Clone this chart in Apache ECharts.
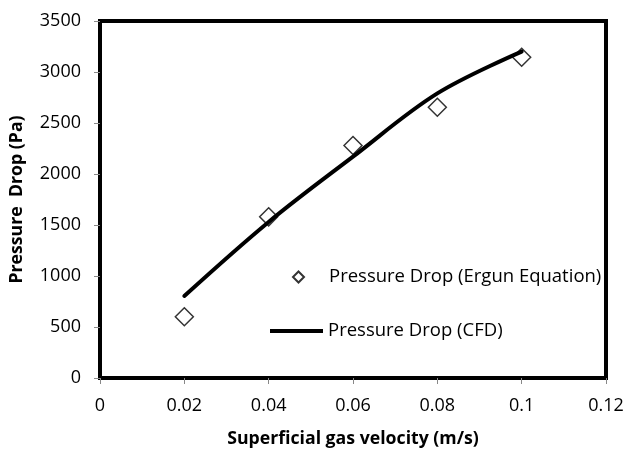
<!DOCTYPE html>
<html><head><meta charset="utf-8">
<script src="https://cdn.jsdelivr.net/npm/echarts@6/dist/echarts.min.js"></script>
<style>html,body{margin:0;padding:0;background:#fff}#c{width:627px;height:449px}</style>
</head><body><div id="c"></div>
<script>
const velocity = [0.02, 0.04, 0.06, 0.08, 0.1];
const ergun = [600, 1580, 2280, 2655, 3145];
const cfd = [804, 1530, 2170, 2790, 3200];
const nameErgun = 'Pressure Drop (Ergun Equation)';
const nameCfd = 'Pressure Drop (CFD)';
const font = 'Open Sans';
const chart = echarts.init(document.getElementById('c'));
chart.setOption({
  animation: false,
  backgroundColor: '#fff',
  grid: {left: 100, right: 21, top: 21, bottom: 71, outerBoundsMode: 'none', containLabel: false,
    show: true, borderColor: '#000', borderWidth: 4, backgroundColor: 'transparent'},
  xAxis: {
    type: 'value', min: 0, max: 0.12, interval: 0.02,
    name: 'Superficial gas velocity (m/s)', nameLocation: 'middle', nameGap: 52,
    nameTextStyle: {fontFamily: font, fontWeight: 'bold', fontSize: 17.7, color: '#000'},
    axisLine: {show: true, lineStyle: {color: '#000', width: 3}},
    axisTick: {show: true, length: 6, lineStyle: {color: '#888'}},
    axisLabel: {fontFamily: font, fontSize: 18, color: '#000', margin: 19, formatter: v => String(+v.toFixed(2))},
    splitLine: {show: false}
  },
  yAxis: {
    type: 'value', min: 0, max: 3500, interval: 500,
    name: 'Pressure  Drop (Pa)', nameLocation: 'middle', nameGap: 74,
    nameTextStyle: {fontFamily: font, fontWeight: 'bold', fontSize: 17.7, color: '#000'},
    axisLine: {show: true, lineStyle: {color: '#000', width: 3}},
    axisTick: {show: true, length: 6, lineStyle: {color: '#888'}},
    axisLabel: {fontFamily: font, fontSize: 18, color: '#000', margin: 19, formatter: v => String(v)},
    splitLine: {show: false}
  },
  legend: [{
    data: [{name: nameErgun, icon: 'diamond', itemStyle: {color: '#fff', borderColor: '#000', borderWidth: 2}}],
    left: 292, top: 267, padding: 0, itemWidth: 11, itemHeight: 11, itemGap: 0,
    textStyle: {fontFamily: font, fontSize: 18.5, lineHeight: 20, color: '#000', padding: [0,0,0,20]}
  }, {
    data: [{name: nameCfd, icon: 'rect', itemStyle: {color: '#000', borderWidth: 0}}],
    left: 270, top: 321, padding: 0, itemWidth: 53, itemHeight: 4, itemGap: 0,
    textStyle: {fontFamily: font, fontSize: 18.5, lineHeight: 20, color: '#000', padding: [0,0,0,0]}
  }],
  series: [{
    name: nameCfd, type: 'line', smooth: 0.35, showSymbol: false,
    data: velocity.map((v, i) => [v, cfd[i]]),
    lineStyle: {color: '#000', width: 4, cap: 'round'}, itemStyle: {color: '#000'}, z: 2
  }, {
    name: nameErgun, type: 'scatter', symbol: 'diamond', symbolSize: 18,
    data: velocity.map((v, i) => [v, ergun[i]]),
    itemStyle: {color: 'rgba(255,255,255,0)', borderColor: '#000', borderWidth: 1.5}, z: 3
  }]
});
</script></body></html>
